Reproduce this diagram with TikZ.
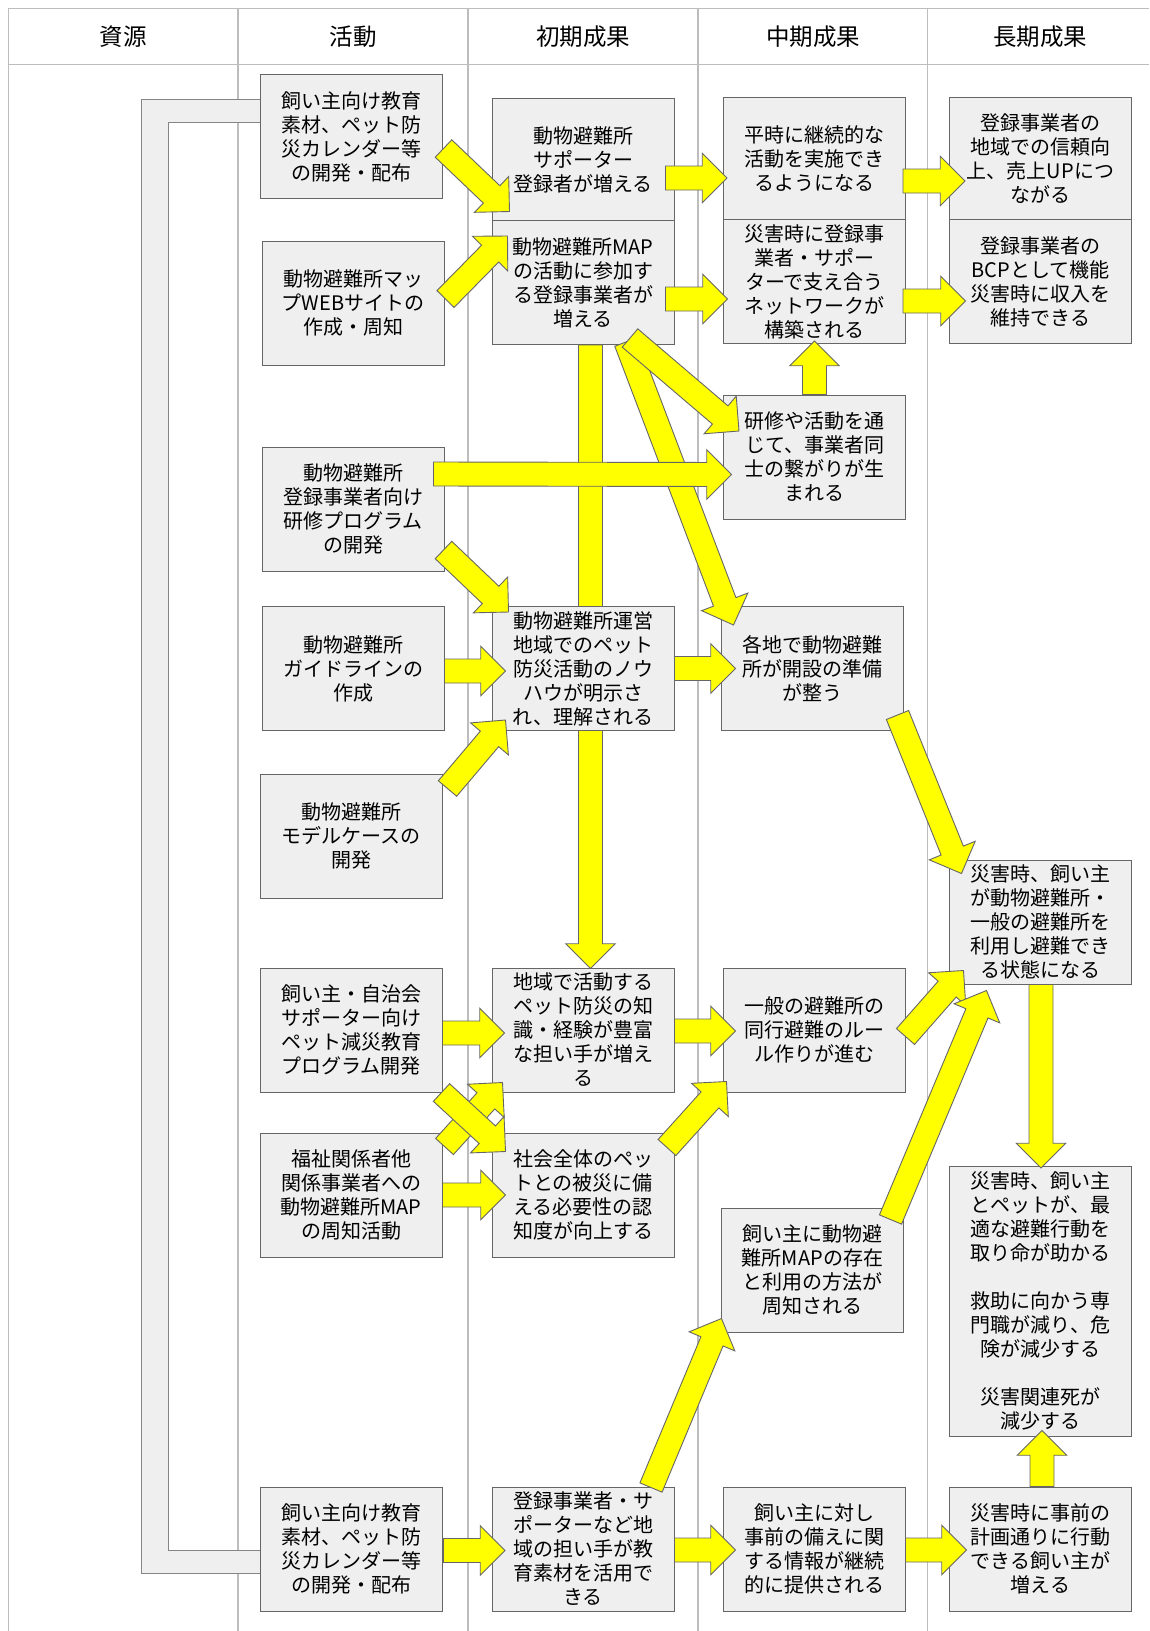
\documentclass[tikz,border=0pt]{standalone}
\usepackage{fontspec}
\setmainfont{Noto Sans CJK JP}
\usetikzlibrary{calc,backgrounds}

\definecolor{boxfill}{HTML}{EFEFEF}
\definecolor{boxline}{HTML}{666666}
\definecolor{gridline}{HTML}{BDBDBD}
\definecolor{arrowfill}{HTML}{FFFF00}

\newcommand\ShaftW{12pt}
\newcommand\HeadW{24.75pt}
\newcommand\HeadLen{24.75pt}
\newcommand{\blockarrow}[2]{%
    \coordinate (ba-s) at (#1);
    \coordinate (ba-t) at (#2);
    \coordinate (ba-h) at ($(ba-t)!\HeadLen!(ba-s)$);
    % draw shaft and head as one outline
    \draw[fatarrow] ($(ba-s)!\ShaftW!90:(ba-t)$) -- ($(ba-h)!\ShaftW!90:(ba-t)$)
        -- ($(ba-h)!\HeadW!90:(ba-t)$) -- (ba-t)
        -- ($(ba-h)!\HeadW!-90:(ba-t)$) -- ($(ba-h)!\ShaftW!-90:(ba-t)$)
        -- ($(ba-s)!\ShaftW!-90:(ba-t)$) -- cycle;
}

\tikzset{
    cell/.style={draw=boxline, fill=boxfill, line width=1pt, minimum width=182pt,
        minimum height=124pt, inner sep=0pt, align=center,
        font=\fontsize{20}{24}\selectfont},
    colhead/.style={font=\fontsize{23.5}{28}\selectfont},
    fatarrow/.style={fill=arrowfill, draw=boxline, line width=0.9pt, line join=miter},
    grid/.style={draw=gridline, line width=1.2pt},
}

\begin{document}
\begin{tikzpicture}[x=1pt,y=-1pt]
\useasboundingbox (0,0) rectangle (1149,1631);
% column heads
\node[colhead] (H1) at (123,36.5) {資源};
\node[colhead] (H2) at (353,36.5) {活動};
\node[colhead] (H3) at (583,36.5) {初期成果};
\node[colhead] (H4) at (813,36.5) {中期成果};
\node[colhead] (H5) at (1040,36.5) {長期成果};

% activities
\node[cell] (A1) at (351,136.5) {飼い主向け教育\\素材、ペット防\\災カレンダー等\\の開発・配布};
\node[cell] (A2) at (353,303) {動物避難所マッ\\プWEBサイトの\\作成・周知};
\node[cell] (A3) at (353,509) {動物避難所\\登録事業者向け\\研修プログラム\\の開発};
\node[cell] (A4) at (353,668.5) {動物避難所\\ガイドラインの\\作成};
\node[cell] (A5) at (351,836) {動物避難所\\モデルケースの\\開発};
\node[cell] (A6) at (351,1030) {飼い主・自治会\\サポーター向け\\ペット減災教育\\プログラム開発};
\node[cell] (A7) at (351,1195) {福祉関係者他\\関係事業者への\\動物避難所MAP\\の周知活動};
\node[cell] (A8) at (351,1549) {飼い主向け教育\\素材、ペット防\\災カレンダー等\\の開発・配布};

% early outcomes
\node[cell] (O1) at (583,160) {動物避難所\\サポーター\\登録者が増える};
\node[cell] (O2) at (583,282.5) {動物避難所MAP\\の活動に参加す\\る登録事業者が\\増える};
\node[cell] (O3) at (583,668.5) {動物避難所運営\\地域でのペット\\防災活動のノウ\\ハウが明示さ\\れ、理解される};
\node[cell] (O4) at (583,1030) {地域で活動する\\ペット防災の知\\識・経験が豊富\\な担い手が増え\\る};
\node[cell] (O5) at (583,1195) {社会全体のペッ\\トとの被災に備\\える必要性の認\\知度が向上する};
\node[cell] (O6) at (583,1549) {登録事業者・サ\\ポーターなど地\\域の担い手が教\\育素材を活用で\\きる};

% mid-term outcomes
\node[cell] (M1) at (814.5,159) {平時に継続的な\\活動を実施でき\\るようになる};
\node[cell] (M2) at (814.5,281.5) {災害時に登録事\\業者・サポー\\ターで支え合う\\ネットワークが\\構築される};
\node[cell] (M3) at (814.5,457) {研修や活動を通\\じて、事業者同\\士の繋がりが生\\まれる};
\node[cell] (M4) at (812.5,668.5) {各地で動物避難\\所が開設の準備\\が整う};
\node[cell] (M5) at (814.5,1030) {一般の避難所の\\同行避難のルー\\ル作りが進む};
\node[cell] (M6) at (812.5,1270) {飼い主に動物避\\難所MAPの存在\\と利用の方法が\\周知される};
\node[cell] (M7) at (814.5,1549) {飼い主に対し\\事前の備えに関\\する情報が継続\\的に提供される};

% long-term outcomes
\node[cell] (L1) at (1040.5,159) {登録事業者の\\地域での信頼向\\上、売上UPにつ\\ながる};
\node[cell] (L2) at (1040.5,281.5) {登録事業者の\\BCPとして機能\\災害時に収入を\\維持できる};
\node[cell] (L3) at (1040.5,922) {災害時、飼い主\\が動物避難所・\\一般の避難所を\\利用し避難でき\\る状態になる};
\node[cell, minimum height=270pt] (L4) at (1040.5,1301) {災害時、飼い主\\とペットが、最\\適な避難行動を\\取り命が助かる\\[24pt]救助に向かう専\\門職が減り、危\\険が減少する\\[24pt]災害関連死が\\減少する};
\node[cell] (L5) at (1040.5,1549) {災害時に事前の\\計画通りに行動\\できる飼い主が\\増える};

\begin{scope}[on background layer]
    % draw table lines
    \draw[grid] (8.3,1631) -- (8.3,8.3) -- (1149,8.3);
    \draw[grid] (8.3,64.5) -- (1149,64.5);
    \foreach \x in {238,468,698,927.5} {%
        \draw[grid] (\x,8.3) -- (\x,1631);}
    % draw resource bracket
    \draw[fill=boxfill, draw=boxline!80, line width=1pt]
        (141,99) -- (260,99) -- (260,122) -- (168,122) -- (168,1550)
        -- (260,1550) -- (260,1573) -- (141,1573) -- cycle;
    % long arrow behind the middle box
    \blockarrow{$(O2.south)+(7.5,0)$}{$(O4.north)+(7.5,1)$}
\end{scope}

% top rows
\blockarrow{$(A1.east)+(1,12)$}{$(O1.south west)+(18,-11)$}
\blockarrow{$(A2.east)+(1,-4)$}{$(O2.north west)+(16,16)$}
\blockarrow{$(O1.east)+(-9,18)$}{$(M1.west)+(4,19)$}
\blockarrow{$(M1.east)+(-3,22)$}{$(L1.west)+(16,22)$}
\blockarrow{$(O2.east)+(-9,16.5)$}{$(M2.west)+(4.5,17.5)$}
\blockarrow{$(M2.east)+(-3,19.5)$}{$(L2.west)+(16.5,19.5)$}
\blockarrow{M3.north}{$(M2.south)+(0,-3)$}
\blockarrow{$(O2.south)+(43,-3)$}{$(M4.north west)+(12.5,19)$}
\blockarrow{$(O2.south)+(47,-7)$}{$(M3.west)+(16,-26)$}
\blockarrow{$(A3.north east)+(-11,27.5)$}{$(M3.west)+(8.5,17.5)$}

% middle rows
\blockarrow{$(A3.east)+(-1,41)$}{$(O3.north west)+(17,6)$}
\blockarrow{$(A4.east)+(0,2.5)$}{$(O3.west)+(14,2.5)$}
\blockarrow{$(A5.north east)+(5,15)$}{$(O3.south west)+(14,-11)$}
\blockarrow{O3.east}{$(M4.west)+(14.5,0)$}
\blockarrow{$(M4.south east)+(-6.5,-16)$}{$(L3.north west)+(12.5,14)$}

% lower rows
\blockarrow{$(A6.east)+(0,3)$}{$(O4.west)+(13,3)$}
\blockarrow{$(O4.east)+(0,1)$}{$(M5.west)+(12.5,1)$}
\blockarrow{$(A7.north east)+(2,14)$}{$(O4.south west)+(11,-10)$}
\blockarrow{$(A6.south east)+(-1,0)$}{$(O5.north west)+(14,19)$}
\blockarrow{A7.east}{$(O5.west)+(14,0)$}
\blockarrow{$(O5.north east)+(-7.5,15)$}{$(M5.south west)+(3.5,-11)$}
\blockarrow{$(M5.east)+(-0.5,6.5)$}{$(L3.south west)+(14.5,-14)$}
\blockarrow{$(M6.north east)+(-13.5,12)$}{$(L3.south west)+(37.5,6)$}
\blockarrow{$(L3.south)+(0.5,0)$}{$(L4.north)+(0.5,2.5)$}

% bottom row
\blockarrow{$(O6.north)+(68,1)$}{$(M6.south west)+(0.5,-14)$}
\blockarrow{$(A8.east)+(1,1.5)$}{$(O6.west)+(13.5,1.5)$}
\blockarrow{$(O6.east)+(0,1)$}{$(M7.west)+(12.5,1)$}
\blockarrow{$(M7.east)+(-0.5,1)$}{$(L5.west)+(17.5,1)$}
\blockarrow{$(L5.north)+(1.5,0)$}{$(L4.south)+(1.5,-6)$}
\end{tikzpicture}
\end{document}
